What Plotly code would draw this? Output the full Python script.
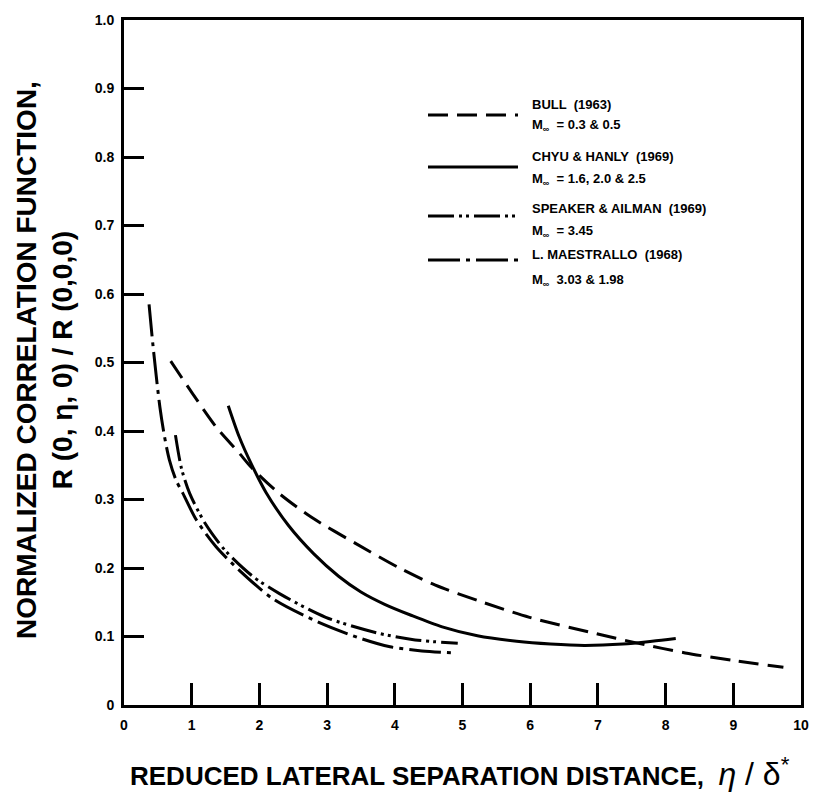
import plotly.graph_objects as go

# Reduced lateral separation eta/delta* and normalized correlation R(0,eta,0)/R(0,0,0)
bull_x = [0.69, 1.01, 1.36, 1.70, 1.88, 2.29, 2.77, 3.42, 4.05, 4.6, 5.24, 5.99, 6.98, 7.6, 8.29, 9.0, 9.74]
bull_y = [0.502, 0.455, 0.406, 0.368, 0.347, 0.309, 0.274, 0.236, 0.201, 0.175, 0.152, 0.128, 0.104, 0.090, 0.076, 0.065, 0.055]

chyu_x = [1.54, 1.7, 1.88, 2.1, 2.43, 2.8, 3.17, 3.5, 3.85, 4.24, 4.7, 5.22, 5.8, 6.3, 6.8, 7.37, 7.8, 8.15]
chyu_y = [0.437, 0.392, 0.352, 0.31, 0.262, 0.221, 0.188, 0.165, 0.147, 0.131, 0.114, 0.101, 0.093, 0.089, 0.087, 0.089, 0.093, 0.097]

speaker_x = [0.76, 0.85, 0.97, 1.2, 1.5, 1.9, 2.29, 2.98, 3.75, 4.3, 4.93]
speaker_y = [0.394, 0.345, 0.309, 0.265, 0.225, 0.188, 0.163, 0.128, 0.105, 0.095, 0.090]

maestrallo_x = [0.37, 0.43, 0.53, 0.6, 0.67, 0.77, 0.87, 1.07, 1.36, 1.7, 2.2, 2.87, 3.5, 3.93, 4.4, 4.9]
maestrallo_y = [0.585, 0.523, 0.435, 0.391, 0.358, 0.328, 0.309, 0.27, 0.231, 0.197, 0.155, 0.121, 0.097, 0.085, 0.079, 0.076]

x_ticks = list(range(0, 11))
y_ticks = [i / 10 for i in range(0, 11)]
y_tick_text = ["0"] + [f"{v:.1f}" for v in y_ticks[1:]]

legend_entries = [
    ("BULL  (1963)", "M<sub>∞</sub>  = 0.3 & 0.5"),
    ("CHYU & HANLY  (1969)", "M<sub>∞</sub>  = 1.6, 2.0 & 2.5"),
    ("SPEAKER & AILMAN  (1969)", "M<sub>∞</sub>  = 3.45"),
    ("L. MAESTRALLO  (1968)", "M<sub>∞</sub>  3.03 & 1.98"),
]

FONT = "Liberation Sans, Arial, sans-serif"
INK = "black"

styles = {
    "bull": "20px,9px",
    "chyu": "solid",
    "speaker": "26px,5px,3px,4px,3px,5px",
    "maestrallo": "32px,6px,4px,6px",
}

fig = go.Figure()
for key, xs, ys in [
    ("bull", bull_x, bull_y),
    ("chyu", chyu_x, chyu_y),
    ("speaker", speaker_x, speaker_y),
    ("maestrallo", maestrallo_x, maestrallo_y),
]:
    fig.add_trace(go.Scatter(
        x=xs, y=ys, mode="lines",
        line=dict(color=INK, width=3, dash=styles[key], shape="spline", smoothing=0.8),
        showlegend=False, hoverinfo="skip",
    ))

# plot-area geometry in pixels (used to place the hand-built key)
L, R, T, B = 124, 801, 20, 705
W, H = R - L, B - T


def px_x(px):
    return (px - L) / W


def px_y(py):
    return (B - py) / H


key_rows = [(115, 104, 126), (167, 156, 179), (216, 208, 231), (260, 254, 280)]
for (title, sub), key, (ly, ty1, ty2) in zip(legend_entries, ["bull", "chyu", "speaker", "maestrallo"], key_rows):
    fig.add_shape(type="line", xref="paper", yref="paper",
                  x0=px_x(428), x1=px_x(518), y0=px_y(ly), y1=px_y(ly),
                  line=dict(color=INK, width=3, dash=styles[key]))
    fig.add_annotation(xref="paper", yref="paper", x=px_x(530), y=px_y(ty1),
                       xanchor="left", yanchor="middle", showarrow=False,
                       text=f"<b>{title}</b>", font=dict(family=FONT, size=13, color=INK))
    fig.add_annotation(xref="paper", yref="paper", x=px_x(530), y=px_y(ty2),
                       xanchor="left", yanchor="middle", showarrow=False,
                       text=f"<b>{sub}</b>", font=dict(family=FONT, size=13, color=INK))

# axis titles
fig.add_annotation(xref="paper", yref="paper", x=px_x(45), y=px_y(360),
                   xanchor="center", yanchor="middle", showarrow=False, textangle=-90,
                   text="<b>NORMALIZED CORRELATION FUNCTION,<br>R (0, η, 0) / R (0,0,0)</b>",
                   font=dict(family=FONT, size=28, color=INK))
fig.add_annotation(xref="paper", yref="paper", x=px_x(128), y=px_y(772),
                   xanchor="left", yanchor="middle", showarrow=False,
                   text=("<b>REDUCED LATERAL SEPARATION DISTANCE,</b>  "
                         "<span style='font-size:32px'><i>η</i> / δ<sup>*</sup></span>"),
                   font=dict(family=FONT, size=26, color=INK))

axis_common = dict(
    showline=True, linecolor=INK, linewidth=3, mirror=True,
    showgrid=False, zeroline=False,
    ticks="inside", tickcolor=INK, tickwidth=2.5,
    tickfont=dict(family=FONT, size=14, color=INK, weight="bold"),
)

fig.update_xaxes(range=[0, 10], tickvals=x_ticks, ticktext=[str(v) for v in x_ticks],
                 ticklen=22, ticklabelstandoff=5, **axis_common)
fig.update_yaxes(range=[0, 1], tickvals=y_ticks, ticktext=y_tick_text,
                 ticklen=20, ticklabelstandoff=4, **axis_common)

fig.update_layout(
    width=825, height=802,
    margin=dict(l=L, r=825 - R, t=T, b=802 - B),
    paper_bgcolor="white", plot_bgcolor="white",
    font=dict(family=FONT, color=INK),
)

fig.write_html("out.html")
